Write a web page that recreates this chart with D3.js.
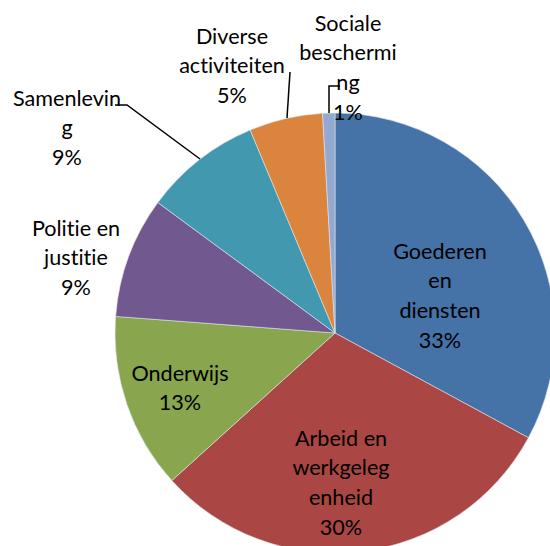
<!DOCTYPE html>
<html>
<head>
<meta charset="utf-8">
<script src="https://cdn.jsdelivr.net/npm/d3@7"></script>
<style>
  body { margin: 0; background: #fff; }
  svg { display: block; }
  text { font-variant-ligatures: none; font-feature-settings: "liga" 0; }
</style>
</head>
<body>
<div id="container"></div>
<script>
let w = 550;
let h = 546;

// data
let categories = ["Goederen en diensten", "Arbeid en werkgelegenheid", "Onderwijs",
  "Politie en justitie", "Samenleving", "Diverse activiteiten", "Sociale bescherming"];
let values = [32.9, 30.4, 12.9, 8.9, 8.6, 5.4, 0.9];
// label text as wrapped in the original
let labelLines = [
  ["Goederen", "en", "diensten"],
  ["Arbeid en", "werkgeleg", "enheid"],
  ["Onderwijs"],
  ["Politie en", "justitie"],
  ["Samenlevin", "g"],
  ["Diverse", "activiteiten"],
  ["Sociale", "beschermi", "ng"]
];
let colors = ["#4572A7", "#AA4643", "#89A54E", "#71588F", "#4198AF", "#DB843D", "#93A9CF"];

// label centres (first line) and leader lines
let labelPos = [[440, 251], [341, 438], [180, 373], [76, 228], [67, 98], [232, 36], [348, 23]];
let leaders = [null, null, null, null,
  [[200, 159], [127, 105], [115, 105]],
  [[287, 118], [290, 72]],
  [[329, 113], [329, 86], [340, 86]]
];

let cx = 335, cy = 333, r = 220;
let lineH = 29.7;

let total = d3.sum(values);
let data = categories.map((c, i) => ({name: c, value: values[i], lines: labelLines[i], i: i}));

let viz = d3.select("#container")
  .append("svg")
    .attr("width", w)
    .attr("height", h)
    .style("background-color", "white");

let pie = d3.pie().sort(null).value(d => d.value);
let arc = d3.arc().innerRadius(0).outerRadius(r);

let g = viz.append("g").attr("transform", `translate(${cx},${cy})`);

g.selectAll("path")
  .data(pie(data))
  .join("path")
    .attr("d", arc)
    .attr("fill", d => colors[d.data.i])
    .attr("stroke", "#dfe6ee")
    .attr("stroke-width", 0.6);

let line = d3.line();
viz.append("g")
  .selectAll("path")
  .data(leaders.filter(d => d))
  .join("path")
    .attr("d", line)
    .attr("fill", "none")
    .attr("stroke", "#000")
    .attr("stroke-width", 1.5);

let labels = viz.append("g")
  .style("font-family", "Lato, 'Open Sans', sans-serif")
  .style("font-size", "21.6px")
  .attr("fill", "#000")
  .attr("text-anchor", "middle");

// one text element per wrapped line
data.forEach((d, i) => {
  let txt = d.lines.concat([Math.round(d.value / total * 100) + "%"]);
  labels.selectAll(null)
    .data(txt)
    .join("text")
      .attr("x", labelPos[i][0])
      .attr("y", (s, k) => labelPos[i][1] + k * lineH)
      .attr("dy", "0.35em")
      .text(s => s);
});
</script>
</body>
</html>
